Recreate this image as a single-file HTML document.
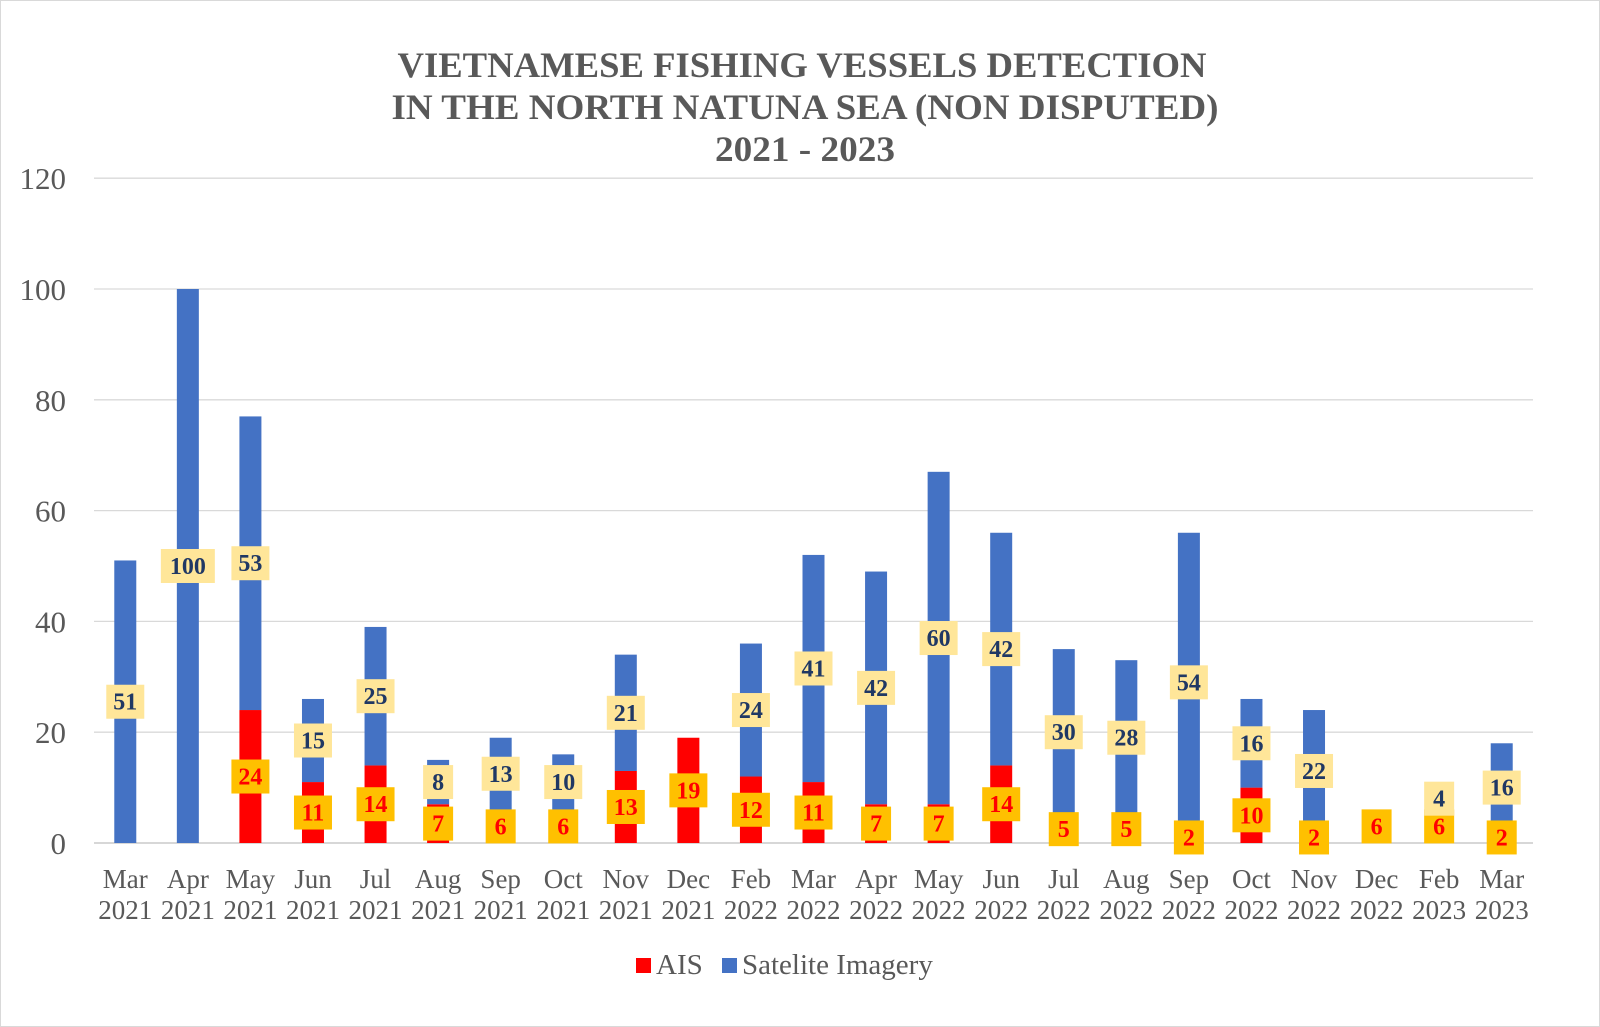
<!DOCTYPE html>
<html><head><meta charset="utf-8"><style>
body{margin:0;background:#fff;}
svg{display:block;font-family:"Liberation Serif",serif;}
</style></head><body>
<svg id="chart" width="1600" height="1027" xmlns="http://www.w3.org/2000/svg">
<rect x="0.5" y="0.5" width="1599" height="1026" fill="#fff" stroke="#d9d9d9"/>
<text x="802" y="77" text-anchor="middle" font-size="36" font-weight="bold" fill="#595959" textLength="809" lengthAdjust="spacingAndGlyphs">VIETNAMESE FISHING VESSELS DETECTION</text>
<text x="805" y="119" text-anchor="middle" font-size="36" font-weight="bold" fill="#595959" textLength="827" lengthAdjust="spacingAndGlyphs">IN THE NORTH NATUNA SEA  (NON DISPUTED)</text>
<text x="805" y="161" text-anchor="middle" font-size="36" font-weight="bold" fill="#595959" textLength="180" lengthAdjust="spacingAndGlyphs">2021 - 2023</text>
<g id="grid"></g><g id="bars"></g><g id="labels"></g><g id="xaxis"></g>
<g>
<rect x="636" y="958" width="15" height="15" fill="#ff0000"/>
<text x="656" y="974" font-size="29" fill="#595959">AIS</text>
<rect x="722" y="958" width="15" height="15" fill="#4472c4"/>
<text x="742" y="974" font-size="29" fill="#595959">Satelite Imagery</text>
</g>
</svg>
<script>
const months=["Mar","Apr","May","Jun","Jul","Aug","Sep","Oct","Nov","Dec","Feb","Mar","Apr","May","Jun","Jul","Aug","Sep","Oct","Nov","Dec","Feb","Mar"];
const years=["2021","2021","2021","2021","2021","2021","2021","2021","2021","2021","2022","2022","2022","2022","2022","2022","2022","2022","2022","2022","2022","2023","2023"];
const ais=[0,0,24,11,14,7,6,6,13,19,12,11,7,7,14,5,5,2,10,2,6,6,2];
const sat=[51,100,53,15,25,8,13,10,21,0,24,41,42,60,42,30,28,54,16,22,0,4,16];
const yTicks=[0,20,40,60,80,100,120];
const NS="http://www.w3.org/2000/svg";
const left=94,right=1533,y0=843,pxPer=5.54;
const step=(right-left)/months.length;
const X=i=>left+step*(i+0.5);
const Y=v=>y0-v*pxPer;
function mk(tag,attrs,parent,txt){const e=document.createElementNS(NS,tag);for(const k in attrs)e.setAttribute(k,attrs[k]);if(txt!==undefined)e.textContent=txt;document.getElementById(parent).appendChild(e);return e;}
yTicks.forEach(t=>{
 const l=mk('line',{x1:left,x2:right,y1:Y(t),y2:Y(t),stroke:t===0?'#bfbfbf':'#d9d9d9','stroke-width':1.3},'grid');
 
 
 const tx=mk('text',{x:66,y:Y(t)+11,'text-anchor':'end','font-size':31,fill:'#595959'},'grid',String(t));
 
 
});
const bw=22;
function label(cx,cy,val,bg,fg,name){
 const s=String(val);const w=s.length>=3?54:(s.length==2?38:30);
 const r=mk('rect',{x:cx-w/2,y:cy-17,width:w,height:34,fill:bg},'labels');
 
 
 const t=mk('text',{x:cx,y:cy+8,'text-anchor':'middle','font-size':24,'font-weight':'bold',fill:fg},'labels',s);
 
 
}
months.forEach((m,i)=>{
 const cx=X(i);
 if(ais[i]>0){
  const r=mk('rect',{x:cx-bw/2,y:Y(ais[i]),width:bw,height:ais[i]*pxPer,fill:'#ff0000'},'bars');
  
  
 }
 if(sat[i]>0){
  const r=mk('rect',{x:cx-bw/2,y:Y(ais[i]+sat[i]),width:bw,height:sat[i]*pxPer,fill:'#4472c4'},'bars');
  
  
 }
 if(ais[i]>0)label(cx,Y(ais[i]/2),ais[i],'#ffc000','#ff0000','label-ais-'+i);
 if(sat[i]>0)label(cx,Y(ais[i]+sat[i]/2),sat[i],'#ffe699','#203864','label-satellite-'+i);
 const a=mk('text',{x:cx,y:888,'text-anchor':'middle','font-size':27,fill:'#595959'},'xaxis',m);
 
 
 const b=mk('text',{x:cx,y:919,'text-anchor':'middle','font-size':27,fill:'#595959'},'xaxis',years[i]);
 
 
});
</script>
</body></html>
